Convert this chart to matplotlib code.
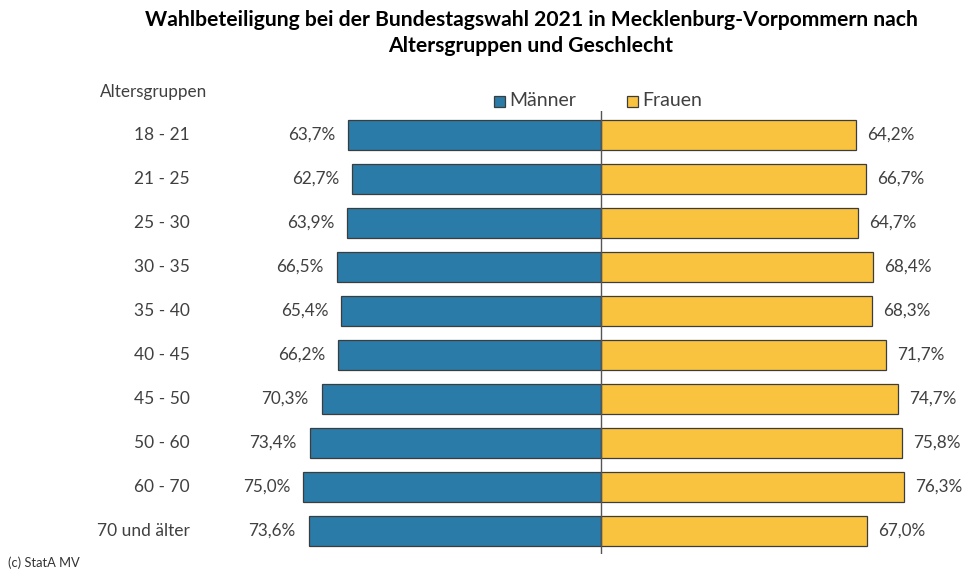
import matplotlib
matplotlib.use("Agg")
import matplotlib.pyplot as plt
from matplotlib.patches import Rectangle

plt.rcParams['font.family'] = ['Lato', 'DejaVu Sans']

age_groups = ["18 - 21", "21 - 25", "25 - 30", "30 - 35", "35 - 40",
              "40 - 45", "45 - 50", "50 - 60", "60 - 70", "70 und älter"]
maenner = [63.7, 62.7, 63.9, 66.5, 65.4, 66.2, 70.3, 73.4, 75.0, 73.6]
frauen = [64.2, 66.7, 64.7, 68.4, 68.3, 71.7, 74.7, 75.8, 76.3, 67.0]

BLUE = "#2A7BA8"
YELLOW = "#F9C33F"
EDGE = "#3C3C3C"
TXT = "#404040"

W, H = 964, 572
fig = plt.figure(figsize=(W / 100, H / 100), dpi=100)

# axes in pixel coordinates: centre line at x=601, 3.97 px per percent
px_per = 3.97
ax_left, ax_right = 200, 964
ax_top, ax_bot = 111, 554
ax = fig.add_axes([ax_left / W, 1 - ax_bot / H,
                   (ax_right - ax_left) / W, (ax_bot - ax_top) / H])
ax.set_xlim((ax_left - 601) / px_per, (ax_right - 601) / px_per)
row0, step = 135, 44
ax.set_ylim((ax_bot - row0) / step, (ax_top - row0) / step)
ax.axis("off")

ypos = list(range(len(age_groups)))
ax.barh(ypos, [-m for m in maenner], height=0.68, color=BLUE,
        edgecolor=EDGE, linewidth=0.9)
ax.barh(ypos, frauen, height=0.68, color=YELLOW,
        edgecolor=EDGE, linewidth=0.9)
ax.axvline(0, color="#555555", linewidth=1.0)

def fmt(v):
    return f"{v:.1f}%".replace(".", ",")

for y, m, f in zip(ypos, maenner, frauen):
    ax.text(-m - 3.3, y, fmt(m), ha="right", va="center",
            fontsize=12.3, color=TXT)
    ax.text(f + 2.8, y, fmt(f), ha="left", va="center",
            fontsize=12.3, color=TXT)

# age group labels on the left
for y, g in zip(ypos, age_groups):
    fig.text(190 / W, 1 - (row0 + step * y) / H, g, ha="right", va="center",
             fontsize=12.5, color=TXT)
fig.text(100 / W, 1 - 92 / H, "Altersgruppen", ha="left", va="center",
         fontsize=12.3, color=TXT)

# legend
for x0, color, label in [(494, BLUE, "Männer"), (627, YELLOW, "Frauen")]:
    fig.add_artist(Rectangle((x0 / W, 1 - 107 / H), 11 / W, 11 / H,
                             transform=fig.transFigure, facecolor=color,
                             edgecolor=EDGE, linewidth=0.9))
    fig.text((x0 + 15) / W, 1 - 101 / H, label, ha="left", va="center",
             fontsize=14, color=TXT)

fig.text(531 / W, 1 - 20 / H, "Wahlbeteiligung bei der Bundestagswahl 2021 in Mecklenburg-Vorpommern nach",
         ha="center", va="center", fontsize=15.2, fontweight="bold", color="black")
fig.text(531 / W, 1 - 46 / H, "Altersgruppen und Geschlecht",
         ha="center", va="center", fontsize=15.2, fontweight="bold", color="black")

fig.text(8 / W, 1 - 563 / H, "(c) StatA MV", ha="left", va="center",
         fontsize=9.3, color="#333333")

fig.savefig("out.png", dpi=100)
